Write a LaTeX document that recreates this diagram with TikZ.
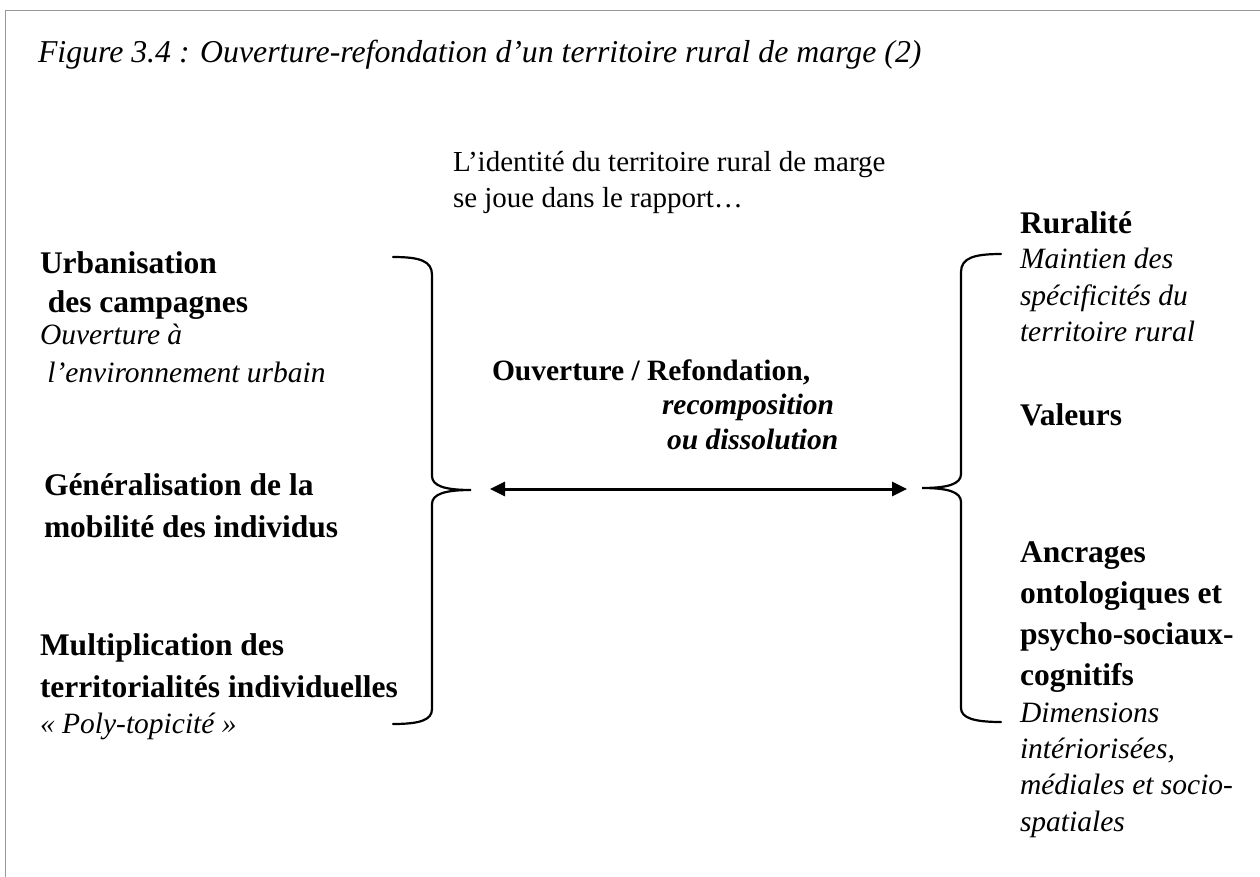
\documentclass[tikz,border=0pt]{standalone}
\usepackage{fontspec}
\setmainfont{Liberation Serif}[Ligatures=NoCommon]
\usetikzlibrary{arrows.meta}
\tikzset{
  txt/.style={anchor=base west, inner sep=0pt, outer sep=0pt},
  bld/.style={txt, font=\fontsize{31.5}{36}\selectfont\bfseries},
  cbd/.style={txt, font=\fontsize{29.5}{34}\selectfont\bfseries},
  itl/.style={txt, font=\fontsize{29.5}{34}\selectfont\itshape},
  bit/.style={txt, font=\fontsize{29.5}{34}\selectfont\bfseries\itshape},
  rom/.style={txt, font=\fontsize{29}{34}\selectfont},
  ttl/.style={txt, font=\fontsize{31.8}{36}\selectfont\itshape},
  brace/.style={line width=2.2pt, line cap=round},
  arr/.style={line width=3pt, {Triangle[length=15pt,width=14pt]}-{Triangle[length=15pt,width=14pt]}},
  frame/.style={draw=black!40, line width=1.3pt}
}
\begin{document}
\begin{tikzpicture}[x=1pt,y=-1pt]
\useasboundingbox (0,0) rectangle (1260,877);
\draw[frame] (5.5,877) -- (5.5,10.5) -- (1260,10.5);

\node[ttl] (title) at (38,63) {Figure 3.4 : Ouverture-refondation d’un territoire rural de marge (2)};

\node[rom] (id1) at (453,172) {L’identité du territoire rural de marge};
\node[rom] (id2) at (453,208) {se joue dans le rapport…};

% left column
\node[bld] (u1) at (40,273) {Urbanisation};
\node[bld] (u2) at (40,312) {\ des campagnes};
\node[itl] (u3) at (40,344) {Ouverture à};
\node[itl] (u4) at (40,382) {\ l’environnement urbain};
\node[bld] (g1) at (44,495) {Généralisation de la};
\node[bld] (g2) at (44,537) {mobilité des individus};
\node[bld] (m1) at (40,655) {Multiplication des};
\node[bld] (m2) at (40,697) {territorialités individuelles};
\node[itl] (m3) at (40,733) {« Poly-topicité »};

% centre
\node[cbd] (c1) at (492,380) {Ouverture / Refondation,};
\node[bit] (c2) at (662,414) {recomposition};
\node[bit] (c3) at (667,449) {ou dissolution};

% right column
\node[bld] (r1) at (1020,234) {Ruralité};
\node[itl] (r2) at (1020,269) {Maintien des};
\node[itl] (r3) at (1020,305) {spécificités du};
\node[itl] (r4) at (1020,341) {territoire rural};
\node[bld] (v1) at (1020,425) {Valeurs};
\node[bld] (a1) at (1020,562) {Ancrages};
\node[bld] (a2) at (1020,603) {ontologiques et};
\node[bld] (a3) at (1020,644) {psycho-sociaux-};
\node[bld] (a4) at (1020,685) {cognitifs};
\node[itl] (a5) at (1020,722) {Dimensions};
\node[itl] (a6) at (1020,758) {intériorisées,};
\node[itl] (a7) at (1020,794) {médiales et socio-};
\node[itl] (a8) at (1020,831) {spatiales};

% braces
\draw[brace] (393,257) .. controls (420,257) and (432,261) .. (432,275)
  -- (432,476) .. controls (432,486) and (445,490) .. (471,490)
  .. controls (445,490) and (432,494) .. (432,504)
  -- (432,709) .. controls (432,720) and (420,724) .. (393,724);
\draw[brace] (1001,254) .. controls (974,254) and (961,258) .. (961,272)
  -- (961,474) .. controls (961,484) and (948,488) .. (922,488)
  .. controls (948,488) and (961,492) .. (961,502)
  -- (961,708) .. controls (961,718) and (974,722) .. (1001,722);

% arrow
\coordinate (al) at (490,489);
\coordinate (ar) at (907,489);
\draw[arr] (al) -- (ar);
\end{tikzpicture}
\end{document}
